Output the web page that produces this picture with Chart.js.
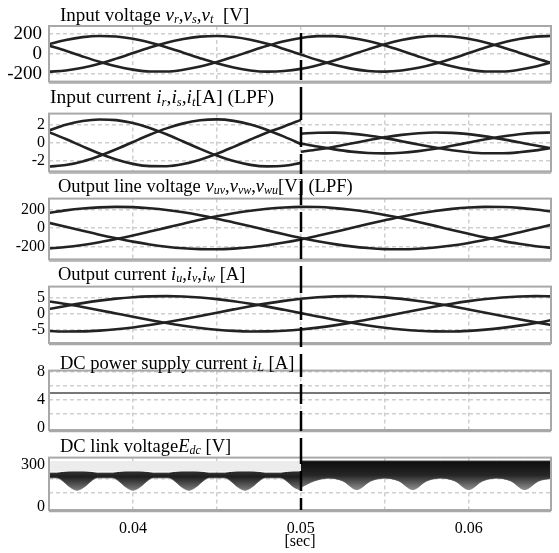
<!DOCTYPE html>
<html>
<head>
<meta charset="utf-8">
<script src="https://cdn.jsdelivr.net/npm/chart.js@4.4.1/dist/chart.umd.min.js"></script>
<style>
  body { margin: 0; background: #fff; }
  #wrap { position: relative; width: 559px; height: 553px; overflow: hidden; font-family: "Liberation Serif", "Times New Roman", serif; }
  #wrap canvas { position: absolute; left: 0; }
  .ttl { position: absolute; font-size: 18.5px; line-height: 1; white-space: nowrap; color: #000; }
  .ttl sub { font-size: 0.65em; line-height: 0; vertical-align: -0.2em; }
</style>
</head>
<body>
<div id="wrap">
  <div class="ttl" style="left:60px;top:5px;font-size:19px">Input voltage <i>v<sub>r</sub></i>,<i>v<sub>s</sub></i>,<i>v<sub>t</sub></i>&nbsp; [V]</div>
  <div class="ttl" style="left:50px;top:87px;font-size:19.5px">Input current <i>i<sub>r</sub></i>,<i>i<sub>s</sub></i>,<i>i<sub>t</sub></i>[A] (LPF)</div>
  <div class="ttl" style="left:58px;top:177px">Output line voltage <i>v<sub>uv</sub></i>,<i>v<sub>vw</sub></i>,<i>v<sub>wu</sub></i>[V] (LPF)</div>
  <div class="ttl" style="left:58px;top:265px">Output current <i>i<sub>u</sub></i>,<i>i<sub>v</sub></i>,<i>i<sub>w</sub></i> [A]</div>
  <div class="ttl" style="left:60px;top:354px">DC power supply current <i>i<sub>L</sub></i> [A]</div>
  <div class="ttl" style="left:60px;top:437px">DC link voltage<i>E<sub>dc</sub></i> [V]</div>
</div>
<script>
// time base [sec], 1 ms step
const time = [0.035, 0.036, 0.037, 0.038, 0.039, 0.040, 0.041, 0.042, 0.043, 0.044, 0.045,
  0.046, 0.047, 0.048, 0.049, 0.050, 0.051, 0.052, 0.053, 0.054, 0.055,
  0.056, 0.057, 0.058, 0.059, 0.060, 0.061, 0.062, 0.063, 0.064, 0.065];
// same, with the step at 0.05 s listed twice
const timeStep = [0.035, 0.036, 0.037, 0.038, 0.039, 0.040, 0.041, 0.042, 0.043, 0.044, 0.045,
  0.046, 0.047, 0.048, 0.049, 0.050, 0.050, 0.051, 0.052, 0.053, 0.054, 0.055,
  0.056, 0.057, 0.058, 0.059, 0.060, 0.061, 0.062, 0.063, 0.064, 0.065];

// input voltage [V]
const vr = [95, 137, 166, 178, 172, 150, 113, 66, 11, -44, -95, -137, -166, -178, -172, -150, -113, -66, -11, 44, 95, 137, 166, 178, 172, 150, 113, 66, 11, -44, -95];
const vs = [-178, -167, -140, -99, -48, 7, 62, 110, 148, 171, 178, 167, 140, 99, 48, -7, -62, -110, -148, -171, -178, -167, -140, -99, -48, 7, 62, 110, 148, 171, 178];
const vt = [82, 30, -26, -79, -125, -158, -176, -176, -159, -127, -82, -30, 26, 79, 125, 158, 176, 176, 159, 127, 82, 30, -26, -79, -125, -158, -176, -176, -159, -127, -82];

// input current [A] (LPF), on timeStep
const ir = [1.39, 2.00, 2.42, 2.59, 2.52, 2.20, 1.66, 0.96, 0.16, -0.65, -1.39, -2.00, -2.42, -2.59, -2.52, -2.20,
  -0.97, -0.73, -0.42, -0.07, 0.29, 0.62, 0.89, 1.07, 1.15, 1.11, 0.97, 0.73, 0.42, 0.07, -0.29, -0.62];
const is = [-2.60, -2.44, -2.04, -1.44, -0.70, 0.11, 0.90, 1.61, 2.16, 2.50, 2.60, 2.44, 2.04, 1.44, 0.70, -0.11,
  -0.05, -0.40, -0.71, -0.96, -1.11, -1.15, -1.08, -0.90, -0.64, -0.31, 0.05, 0.40, 0.71, 0.96, 1.11, 1.15];
const it = [1.20, 0.43, -0.38, -1.16, -1.82, -2.31, -2.56, -2.57, -2.33, -1.85, -1.20, -0.43, 0.38, 1.16, 1.82, 2.55,
  1.02, 1.13, 1.14, 1.03, 0.82, 0.53, 0.19, -0.17, -0.51, -0.81, -1.02, -1.13, -1.14, -1.03, -0.82, -0.53];

// output line voltage [V] (LPF)
const vuv = [165, 192, 212, 225, 230, 227, 215, 197, 171, 139, 102, 61, 19, -25, -67, -107, -143, -174, -199, -217, -228, -230, -224, -210, -189, -161, -127, -89, -47, -4, 39];
const vvw = [-221, -206, -183, -154, -119, -80, -38, 5, 48, 90, 128, 161, 189, 210, 224, 230, 228, 217, 199, 174, 142, 106, 66, 24, -20, -62, -103, -139, -171, -197, -216];
const vwu = [57, 14, -29, -72, -111, -147, -178, -202, -219, -228, -230, -223, -208, -186, -157, -123, -84, -43, 1, 44, 85, 124, 158, 186, 208, 223, 230, 228, 219, 201, 177];

// output current [A]
const iu = [1.46, 2.41, 3.27, 4.02, 4.62, 5.07, 5.33, 5.40, 5.28, 4.97, 4.49, 3.85, 3.07, 2.19, 1.22, 0.21, -0.80, -1.79, -2.71, -3.54, -4.24, -4.79, -5.17, -5.37, -5.38, -5.20, -4.83, -4.29, -3.60, -2.79, -1.87];
const iv = [-5.23, -5.39, -5.36, -5.13, -4.73, -4.15, -3.43, -2.59, -1.66, -0.67, 0.35, 1.35, 2.31, 3.18, 3.94, 4.57, 5.03, 5.31, 5.40, 5.30, 5.02, 4.55, 3.93, 3.16, 2.29, 1.33, 0.33, -0.69, -1.68, -2.61, -3.45];
const iw = [3.77, 2.98, 2.08, 1.11, 0.10, -0.91, -1.89, -2.81, -3.62, -4.31, -4.84, -5.20, -5.38, -5.37, -5.17, -4.78, -4.22, -3.52, -2.69, -1.76, -0.78, 0.24, 1.24, 2.21, 3.09, 3.87, 4.50, 4.98, 5.28, 5.40, 5.32];

// DC power supply current [A]
const iL = [5, 5, 5, 5, 5, 5, 5, 5, 5, 5, 5, 5, 5, 5, 5, 5, 5, 5, 5, 5, 5, 5, 5, 5, 5, 5, 5, 5, 5, 5, 5];

// DC link voltage envelope [V] (0.05 listed twice: step)
const dcTime = [0.0350,
  0.03547, 0.03587, 0.03627, 0.03667, 0.03707, 0.03747, 0.03787,
  0.0388, 0.0392, 0.0396, 0.0400, 0.0404, 0.0408, 0.0412,
  0.04213, 0.04253, 0.04293, 0.04333, 0.04373, 0.04413, 0.04453,
  0.04547, 0.04587, 0.04627, 0.04667, 0.04707, 0.04747, 0.04787,
  0.0488, 0.0492, 0.0496, 0.0500,
  0.0500, 0.0508, 0.05167, 0.0525, 0.05333, 0.05417, 0.0550, 0.05583, 0.05667, 0.0575,
  0.05833, 0.05917, 0.0600, 0.06083, 0.06167, 0.0625, 0.06333, 0.06417, 0.0650];
const dcUpper = [240,
  240, 246, 251, 253, 251, 246, 240,
  240, 246, 251, 253, 251, 246, 240,
  240, 246, 251, 253, 251, 246, 240,
  240, 246, 251, 253, 251, 246, 240,
  240, 246, 251, 253,
  325, 325, 325, 325, 325, 325, 325, 325, 325, 325,
  325, 325, 325, 325, 325, 325, 325, 325, 325];
const dcLower = [207,
  207, 180, 140, 120, 140, 180, 207,
  207, 180, 140, 120, 140, 180, 207,
  207, 180, 140, 120, 140, 180, 207,
  207, 180, 140, 120, 140, 180, 207,
  207, 180, 140, 120,
  140, 185, 205, 185, 125, 185, 205, 185, 125, 185,
  205, 185, 125, 185, 205, 185, 125, 185, 205];

const xGrid = [0.035, 0.04, 0.045, 0.05, 0.055, 0.06];
const FONT = '"Liberation Serif", "Times New Roman", serif';

// split a series where a time value repeats
function toSegments(ts, ys) {
  const segs = [[]];
  ts.forEach((t, i) => {
    if (i > 0 && t === ts[i - 1]) segs.push([]);
    segs[segs.length - 1].push({ x: t, y: ys[i] });
  });
  return segs;
}

function lineSets(ts, list) {
  const out = [];
  list.forEach(ys => {
    toSegments(ts, ys).forEach(seg => out.push({
      data: seg, borderColor: '#222', borderWidth: 2.6, pointRadius: 0,
      cubicInterpolationMode: 'monotone', fill: false
    }));
  });
  return out;
}

const framePlugin = {
  id: 'frame',
  afterDraw(chart, args, opts) {
    const { ctx, chartArea: a } = chart;
    const x = chart.scales.x;
    ctx.save();
    ctx.strokeStyle = '#a8a8a8';
    ctx.lineWidth = 2;
    ctx.strokeRect(a.left, a.top, a.right - a.left, a.bottom - a.top);
    ctx.beginPath();
    ctx.lineWidth = 1.5;
    ctx.moveTo(a.left, a.bottom + 1.5);
    ctx.lineTo(a.right, a.bottom + 1.5);
    ctx.stroke();
    const px = Math.round(x.getPixelForValue(0.05));
    ctx.strokeStyle = '#000';
    ctx.lineWidth = 2.5;
    ctx.setLineDash([20, 7]);
    ctx.beginPath();
    ctx.moveTo(px, opts.y0 != null ? opts.y0 : 0);
    ctx.lineTo(px, opts.y1 != null ? opts.y1 : chart.height);
    ctx.stroke();
    ctx.restore();
  }
};

function makePanel(p) {
  const cv = document.createElement('canvas');
  cv.width = 559; cv.height = p.h;
  cv.style.top = p.top + 'px';
  document.getElementById('wrap').insertBefore(cv, document.getElementById('wrap').firstChild);
  const last = !!p.last;
  new Chart(cv, {
    type: 'line',
    data: { datasets: p.datasets },
    options: {
      responsive: false, animation: false, events: [],
      layout: { padding: { top: p.boxTop - p.top, bottom: last ? 0 : p.top + p.h - p.boxBottom, left: 0, right: 8 } },
      plugins: { legend: { display: false }, tooltip: { enabled: false }, frame: { y0: p.lineFrom, y1: p.lineTo } },
      scales: {
        x: {
          type: 'linear', min: 0.035, max: 0.0649,
          afterBuildTicks(s) { s.ticks = xGrid.map(v => ({ value: v })); },
          afterFit(s) { s.height = last ? 43 : 0; },
          ticks: {
            display: last, autoSkip: false, maxRotation: 0, padding: 9, color: '#000',
            font: { family: FONT, size: 16 },
            callback: v => (Math.abs(v * 100 - Math.round(v * 100)) < 1e-6 ? v.toFixed(2) : '')
          },
          grid: { color: '#cfcfcf', lineWidth: 1.5, drawTicks: false },
          border: { display: false, dash: [4, 3] },
          title: { display: last, text: '[sec]', color: '#000', font: { family: FONT, size: 16 }, padding: { top: 0, bottom: 2 } }
        },
        y: {
          min: p.min, max: p.max,
          afterBuildTicks(s) { s.ticks = p.grid.map(v => ({ value: v })); },
          afterFit(s) { s.width = 49; },
          ticks: {
            autoSkip: false, padding: p.tickPad || 4, color: '#000', font: { family: FONT, size: p.tickSize || 16 },
            callback: v => (p.labels.includes(v) ? String(v) : '')
          },
          grid: {
            drawTicks: false, lineWidth: 1.5,
            color: c => (p.noGrid && p.noGrid.includes(c.tick.value) ? 'rgba(0,0,0,0)' : '#cfcfcf')
          },
          border: { display: false, dash: [4, 3] }
        }
      }
    },
    plugins: [framePlugin]
  });
}

// DC link: band between upper and lower envelope, grey shades
function dcFill(topV, midV, botV, c0, c1, c2) {
  return c => {
    const ch = c.chart;
    if (!ch.chartArea) return c1;
    const y = ch.scales.y;
    const g = ch.ctx.createLinearGradient(0, y.getPixelForValue(topV), 0, y.getPixelForValue(botV));
    g.addColorStop(0, c0);
    g.addColorStop((topV - midV) / (topV - botV), c1);
    g.addColorStop(1, c2);
    return g;
  };
}
const dcU = toSegments(dcTime, dcUpper);
const dcL = toSegments(dcTime, dcLower);
const dcSets = [
  // faint hatch above the band before the step
  { data: [{ x: 0.035, y: 326 }, { x: 0.05, y: 326 }], borderWidth: 0, pointRadius: 0, fill: { value: 252 }, backgroundColor: '#ececec' }
];
dcU.forEach((seg, k) => {
  dcSets.push({
    data: seg, borderColor: k ? '#111' : '#222', borderWidth: 1, pointRadius: 0, cubicInterpolationMode: 'monotone',
    fill: '+1',
    backgroundColor: k ? dcFill(326, 225, 125, '#0d0d0d', '#262626', '#8c8c8c') : dcFill(253, 215, 120, '#333', '#1e1e1e', '#7a7a7a')
  });
  dcSets.push({ data: dcL[k], borderColor: '#777', borderWidth: 1, pointRadius: 0, cubicInterpolationMode: 'monotone', fill: false });
});

makePanel({ top: 0, h: 100, boxTop: 26, boxBottom: 87, min: -277, max: 277, grid: [-200, 0, 200], labels: [-200, 0, 200],
  tickSize: 19, tickPad: 7, lineFrom: 33, datasets: lineSets(time, [vr, vs, vt]) });
makePanel({ top: 100, h: 85, boxTop: 113, boxBottom: 172, min: -3.14, max: 3.24, grid: [-2, 0, 2], labels: [-2, 0, 2],
  datasets: lineSets(timeStep, [ir, is, it]) });
makePanel({ top: 185, h: 88, boxTop: 198, boxBottom: 260, min: -340, max: 320, grid: [-200, 0, 200], labels: [-200, 0, 200],
  datasets: lineSets(time, [vuv, vvw, vwu]) });
makePanel({ top: 273, h: 84, boxTop: 286, boxBottom: 343, min: -8.9, max: 8.3, grid: [-5, 0, 5], labels: [-5, 0, 5],
  datasets: lineSets(time, [iu, iv, iw]) });
makePanel({ top: 357, h: 87, boxTop: 370, boxBottom: 430, min: -0.3, max: 8.2, grid: [0, 2, 4, 6, 8], labels: [0, 4, 8], noGrid: [0],
  datasets: lineSets(time, [iL]).map(d => Object.assign(d, { borderColor: '#777', borderWidth: 2 })) });
makePanel({ top: 444, h: 109, boxTop: 457, boxBottom: 510, min: -20, max: 350, grid: [0, 100, 200, 300], labels: [0, 300], noGrid: [0],
  lineTo: 66, last: true, datasets: dcSets });
</script>
</body>
</html>
